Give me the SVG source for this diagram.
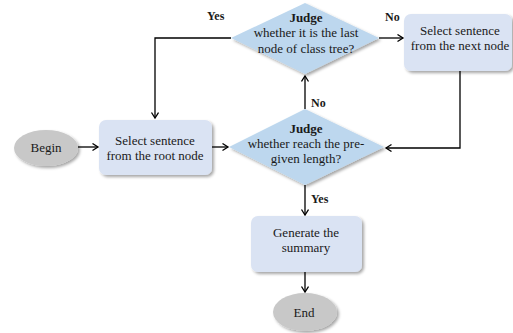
<svg xmlns="http://www.w3.org/2000/svg" width="513" height="333" viewBox="0 0 513 333">
<style>
text{font-family:"Liberation Serif","Times New Roman",serif;font-size:13px;fill:#1a1a1a;text-anchor:middle}
.b{font-weight:bold}
.box{fill:#dae3f3}
.dia{fill:#bdd7ee}
.ell{fill:#c8c8c8}
.c{fill:none;stroke:#000;stroke-width:1.3;marker-end:url(#ah)}
.lbl{font-weight:bold;text-anchor:start;font-size:12px}
</style>
<defs>
<filter id="sh" x="-20%" y="-20%" width="140%" height="140%">
<feDropShadow dx="2" dy="2" stdDeviation="1.5" flood-color="#000" flood-opacity="0.35"/>
</filter>
<marker id="ah" markerUnits="userSpaceOnUse" markerWidth="10" markerHeight="10" refX="6.5" refY="4" orient="auto">
<path d="M1,0.5 L6.5,4 L1,7.5" fill="none" stroke="#000" stroke-width="1.3"/>
</marker>
</defs>
<g id="connectors">
<path class="c" d="M78,147 L98,147"/>
<path class="c" d="M212,147 L228,147"/>
<path class="c" d="M305,109 L305,76"/>
<path class="c" d="M231,38 L155,38 L155,118"/>
<path class="c" d="M379,38 L403,38"/>
<path class="c" d="M460,71 L460,148 L386,148"/>
<path class="c" d="M305,185 L305,215"/>
<path class="c" d="M305,272 L305,292"/>
</g>
<g id="labels">
<text class="lbl" x="207" y="20">Yes</text>
<text class="lbl" x="385" y="21">No</text>
<text class="lbl" x="311" y="107">No</text>
<text class="lbl" x="311" y="203">Yes</text>
</g>
<g id="begin">
<ellipse class="ell" cx="46" cy="148" rx="32" ry="18" filter="url(#sh)"/>
<text x="46" y="152">Begin</text>
</g>
<g id="root">
<rect class="box" x="99" y="120" width="113" height="55" rx="7" filter="url(#sh)"/>
<text x="155" y="145">Select sentence</text>
<text x="155" y="160">from the root node</text>
</g>
<g id="judge2">
<polygon class="dia" points="305,109 384,147 305,185 229,147" filter="url(#sh)"/>
<text class="b" x="306" y="133">Judge</text>
<text x="306" y="148">whether reach the pre-</text>
<text x="306" y="163">given length?</text>
</g>
<g id="judge1">
<polygon class="dia" points="305,3 379,38 305,74 231,38" filter="url(#sh)"/>
<text class="b" x="306" y="22">Judge</text>
<text x="306" y="37">whether it is the last</text>
<text x="306" y="53">node of class tree?</text>
</g>
<g id="next">
<rect class="box" x="404" y="14" width="108" height="57" rx="7" filter="url(#sh)"/>
<text x="460" y="35">Select sentence</text>
<text x="460" y="50">from the next node</text>
</g>
<g id="generate">
<rect class="box" x="251" y="216" width="111" height="56" rx="7" filter="url(#sh)"/>
<text x="306" y="237">Generate the</text>
<text x="306" y="252">summary</text>
</g>
<g id="end">
<ellipse class="ell" cx="305" cy="312" rx="32" ry="19" filter="url(#sh)"/>
<text x="304" y="317">End</text>
</g>
</svg>
